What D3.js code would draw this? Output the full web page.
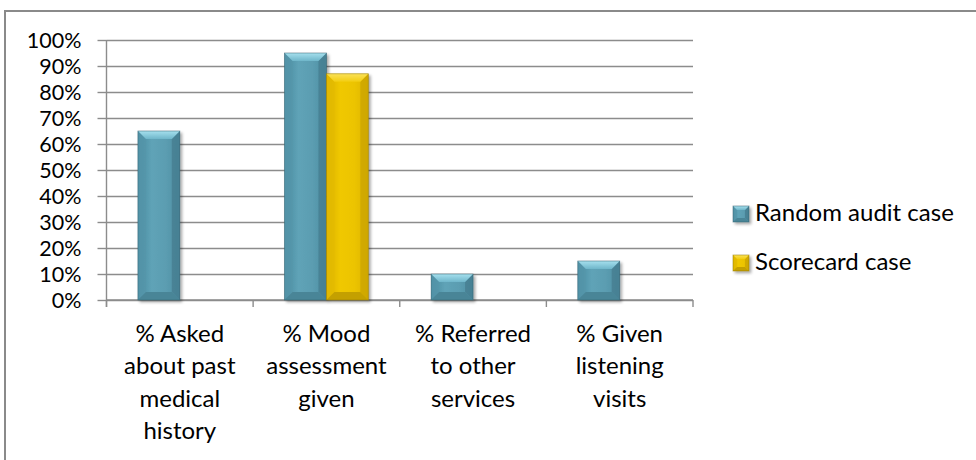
<!DOCTYPE html>
<html>
<head>
<meta charset="utf-8">
<script src="https://cdn.jsdelivr.net/npm/d3@7/dist/d3.min.js"></script>
<style>
  html, body { margin: 0; padding: 0; background: #fff; }
  svg { display: block; }
  text { font-family: Lato, "Open Sans", sans-serif; fill: #000; }
</style>
</head>
<body>
<svg id="chart" width="976" height="460"></svg>
<script>
// Categories (line-broken labels) and series values
const categories = [
  "% Asked about past medical history",
  "% Mood assessment given",
  "% Referred to other services",
  "% Given listening visits"
];
const categoryLines = [
  ["% Asked", "about past", "medical", "history"],
  ["% Mood", "assessment", "given"],
  ["% Referred", "to other", "services"],
  ["% Given", "listening", "visits"]
];
const seriesNames = ["Random audit case", "Scorecard case"];
const randomAudit = [0.65, 0.95, 0.10, 0.15];
const scorecard = [null, 0.87, null, null];
const yTicks = [0, 0.1, 0.2, 0.3, 0.4, 0.5, 0.6, 0.7, 0.8, 0.9, 1.0];

const seriesValues = [randomAudit, scorecard];

const svg = d3.select("#chart");
const W = 976, H = 460;
const plot = { left: 106.5, right: 693, top: 40, bottom: 300 };
const fontSize = 24;
const tickFontSize = 21.5;

// Outer chart frame
svg.append("rect")
  .attr("x", 5).attr("y", 11)
  .attr("width", W + 10).attr("height", H + 10)
  .attr("fill", "#fff").attr("stroke", "#8a8a8a").attr("stroke-width", 2);

const x = d3.scaleBand().domain(categories).range([plot.left, plot.right]).paddingInner(0).paddingOuter(0);
const y = d3.scaleLinear().domain([0, 1]).range([plot.bottom, plot.top]);
const bw = x.bandwidth() / 3.5;  // gap width 150%
const xs = d3.scaleBand().domain(seriesNames).range([0.75 * bw, 2.75 * bw]);

// Gradients for bevelled bars
const defs = svg.append("defs");
const palettes = {
  "Random audit case": {
    face: ["#4a8a9f", "#5fa3b7", "#5b9db1", "#4f8ea2"],
    top: ["#a6e0ee", "#6fb6ca"],
    bottom: "#4a8597",
    left: "#5495a9",
    right: "#437b8d",
    edge: "#2f5c6b"
  },
  "Scorecard case": {
    face: ["#d9b000", "#f0c800", "#ecc400", "#dcb300"],
    top: ["#fbe25a", "#f2cd10"],
    bottom: "#c4a000",
    left: "#e3ba00",
    right: "#c9a300",
    edge: "#8f7400"
  }
};
seriesNames.forEach((s, i) => {
  const p = palettes[s];
  const g = defs.append("linearGradient").attr("id", "face" + i)
    .attr("x1", "0").attr("x2", "1").attr("y1", "0").attr("y2", "0");
  p.face.forEach((c, k) => g.append("stop").attr("offset", k / (p.face.length - 1)).attr("stop-color", c));
  const t = defs.append("linearGradient").attr("id", "top" + i)
    .attr("x1", "0").attr("x2", "0").attr("y1", "0").attr("y2", "1");
  t.append("stop").attr("offset", 0).attr("stop-color", p.top[0]);
  t.append("stop").attr("offset", 1).attr("stop-color", p.top[1]);
});
const shadow = defs.append("filter").attr("id", "shadow")
  .attr("x", "-20%").attr("y", "-20%").attr("width", "150%").attr("height", "150%");
shadow.append("feGaussianBlur").attr("in", "SourceAlpha").attr("stdDeviation", 1.6);
shadow.append("feOffset").attr("dx", 1.5).attr("dy", 1.5).attr("result", "b");
shadow.append("feComponentTransfer").append("feFuncA").attr("type", "linear").attr("slope", 0.35);
const merge = shadow.append("feMerge");
merge.append("feMergeNode");
merge.append("feMergeNode").attr("in", "SourceGraphic");

// Draws one bevelled block into group g
function bevelBlock(g, x0, y0, w, h, si, bev) {
  const p = palettes[seriesNames[si]];
  const b = Math.min(bev, h / 2, w / 2);
  const x1 = x0 + w, y1 = y0 + h;
  const blk = g.append("g").attr("filter", "url(#shadow)");
  blk.append("rect").attr("x", x0).attr("y", y0).attr("width", w).attr("height", h)
    .attr("fill", `url(#face${si})`);
  blk.append("path").attr("d", `M${x0},${y0}L${x0 + b},${y0 + b}L${x0 + b},${y1 - b}L${x0},${y1}Z`)
    .attr("fill", p.left).attr("opacity", 0.7);
  blk.append("path").attr("d", `M${x1},${y0}L${x1 - b},${y0 + b}L${x1 - b},${y1 - b}L${x1},${y1}Z`)
    .attr("fill", p.right).attr("opacity", 0.7);
  blk.append("path").attr("d", `M${x0},${y1}L${x0 + b},${y1 - b}L${x1 - b},${y1 - b}L${x1},${y1}Z`)
    .attr("fill", p.bottom);
  blk.append("path").attr("d", `M${x0},${y0}L${x1},${y0}L${x1 - b},${y0 + b}L${x0 + b},${y0 + b}Z`)
    .attr("fill", `url(#top${si})`);
  blk.append("rect").attr("x", x0).attr("y", y0).attr("width", w).attr("height", h)
    .attr("fill", "none").attr("stroke", p.edge).attr("stroke-width", 0.8).attr("stroke-opacity", 0.6);
}

// Horizontal gridlines
svg.append("g")
  .attr("transform", `translate(${plot.left},0)`)
  .call(d3.axisLeft(y).tickValues(yTicks).tickSize(-(plot.right - plot.left)).tickFormat(""))
  .call(g => g.select(".domain").remove())
  .call(g => g.selectAll("line").attr("stroke", "#8c8c8c").attr("stroke-width", 1.4));

// Y axis with percentage labels
svg.append("g")
  .attr("transform", `translate(${plot.left},0)`)
  .call(d3.axisLeft(y).tickValues(yTicks).tickSize(9).tickPadding(16).tickFormat(d3.format(".0%")))
  .call(g => g.select(".domain").attr("stroke", "#8c8c8c").attr("stroke-width", 1.4)
    .attr("d", `M0,${plot.top}V${plot.bottom + 7}`))
  .call(g => g.selectAll("line").attr("stroke", "#8c8c8c").attr("stroke-width", 1.4))
  .call(g => g.selectAll("text").attr("font-size", tickFontSize)
    .style("font-family", "Lato, 'Open Sans', sans-serif").attr("fill", "#000").attr("dy", "0.36em"));

// Category axis: baseline and tick marks between categories
const xAxisG = svg.append("g").attr("transform", `translate(0,${plot.bottom})`);
xAxisG.append("line").attr("x1", plot.left).attr("x2", plot.right)
  .attr("stroke", "#8c8c8c").attr("stroke-width", 1.4);
const boundaries = categories.map(c => x(c)).concat([x(categories[categories.length - 1]) + x.bandwidth()]);
xAxisG.selectAll("line.tick").data(boundaries).join("line").attr("class", "tick")
  .attr("x1", d => d).attr("x2", d => d).attr("y1", 0).attr("y2", 7)
  .attr("stroke", "#8c8c8c").attr("stroke-width", 1.4);

// Bars
const barsG = svg.append("g");
seriesNames.forEach((s, si) => {
  seriesValues[si].forEach((v, ci) => {
    if (v == null) return;
    const x0 = x(categories[ci]) + xs(s);
    const y0 = y(v);
    bevelBlock(barsG, x0, y0, xs.bandwidth(), y(0) - y0, si, 8);
  });
});

// Category labels
const lineH = 32.4;
const labG = svg.append("g");
categories.forEach((c, ci) => {
  const t = labG.append("text")
    .attr("x", x(c) + x.bandwidth() / 2)
    .attr("y", 342)
    .attr("text-anchor", "middle")
    .attr("font-size", fontSize);
  categoryLines[ci].forEach((ln, k) => {
    t.append("tspan").attr("x", x(c) + x.bandwidth() / 2).attr("y", 342 + k * lineH).text(ln);
  });
});

// Legend
const legend = svg.append("g").attr("transform", "translate(733,206)");
seriesNames.forEach((s, i) => {
  const row = legend.append("g").attr("transform", `translate(0,${i * 49})`);
  bevelBlock(row, 0, 0, 16, 16, i, 4);
  row.append("text").attr("x", 22).attr("y", 15).attr("font-size", fontSize).text(s);
});
</script>
</body>
</html>
